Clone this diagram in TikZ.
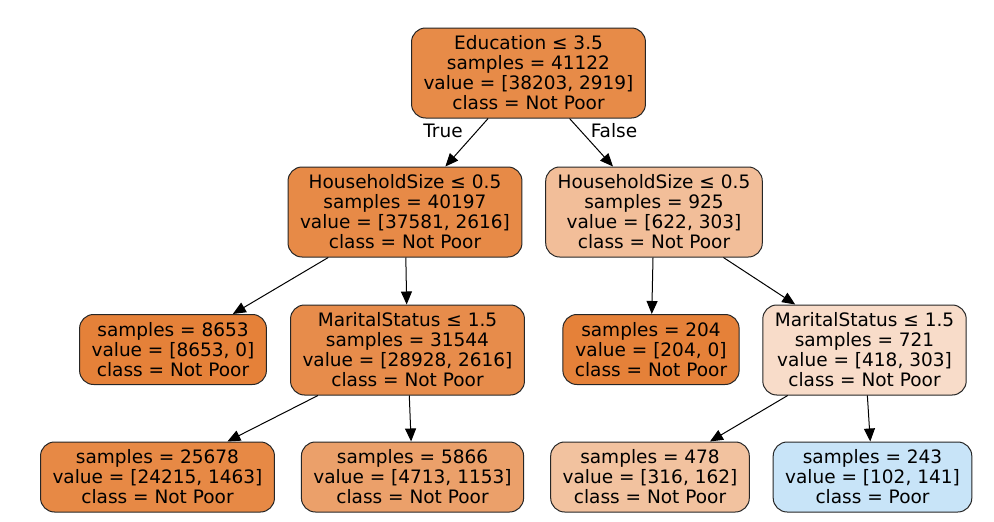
\documentclass[tikz,border=0pt]{standalone}
\usepackage{fontspec}
\setmainfont{DejaVu Sans}
\usetikzlibrary{arrows.meta}

\definecolor{nroot}{RGB}{231,139,72}
\definecolor{nhl}{RGB}{231,138,71}
\definecolor{nhr}{RGB}{242,190,153}
\definecolor{npure}{RGB}{229,129,57}
\definecolor{nml}{RGB}{231,140,75}
\definecolor{nmr}{RGB}{248,220,201}
\definecolor{nc}{RGB}{231,137,69}
\definecolor{nd}{RGB}{235,160,106}
\definecolor{ne}{RGB}{242,194,159}
\definecolor{nf}{RGB}{200,228,248}

\tikzset{
  split/.style={draw=black!85, line width=1pt, rounded corners=14pt, align=center,
    inner xsep=12pt, minimum height=90pt, font=\fontsize{18.5pt}{20pt}\selectfont},
  leaf/.style={split, minimum height=70pt},
  link/.style={-{Triangle[length=13pt,width=11pt]}, line width=1pt},
  tag/.style={font=\fontsize{18.5pt}{20pt}\selectfont}
}

\begin{document}
\begin{tikzpicture}[x=1pt,y=-1pt]
        \useasboundingbox (0,0) rectangle (994,522);
        \node[split,fill=nroot] (root) at (528.5,73) {Education ≤ 3.5\\samples = 41122\\value = [38203, 2919]\\class = Not Poor};
        \node[split,fill=nhl] (hl) at (405,212) {HouseholdSize ≤ 0.5\\samples = 40197\\value = [37581, 2616]\\class = Not Poor};
        \node[split,fill=nhr] (hr) at (654,212) {HouseholdSize ≤ 0.5\\samples = 925\\value = [622, 303]\\class = Not Poor};
        \node[leaf,fill=npure] (a) at (173,349.5) {samples = 8653\\value = [8653, 0]\\class = Not Poor};
        \node[split,fill=nml] (ml) at (407.5,350) {MaritalStatus ≤ 1.5\\samples = 31544\\value = [28928, 2616]\\class = Not Poor};
        \node[leaf,fill=npure] (b) at (651,349.5) {samples = 204\\value = [204, 0]\\class = Not Poor};
        \node[split,fill=nmr] (mr) at (864.5,350) {MaritalStatus ≤ 1.5\\samples = 721\\value = [418, 303]\\class = Not Poor};
        \node[leaf,fill=nc] (c) at (157.5,477) {samples = 25678\\value = [24215, 1463]\\class = Not Poor};
        \node[leaf,fill=nd] (d) at (412.5,477) {samples = 5866\\value = [4713, 1153]\\class = Not Poor};
        \node[leaf,fill=ne] (e) at (650,477) {samples = 478\\value = [316, 162]\\class = Not Poor};
        \node[leaf,fill=nf] (f) at (872.5,477) {samples = 243\\value = [102, 141]\\class = Poor};
        \node[tag] (yes) at (443,131) {True};
        \node[tag] (no) at (614,131) {False};
        \draw[link] (root) -- (hl);
        \draw[link] (root) -- (hr);
        \draw[link] (hl) -- (a);
        \draw[link] (hl) -- (ml);
        \draw[link] (hr) -- (b);
        \draw[link] (hr) -- (mr);
        \draw[link] (ml) -- (c);
        \draw[link] (ml) -- (d);
        \draw[link] (mr) -- (e);
        \draw[link] (mr) -- (f);
    \end{tikzpicture}
\end{document}
